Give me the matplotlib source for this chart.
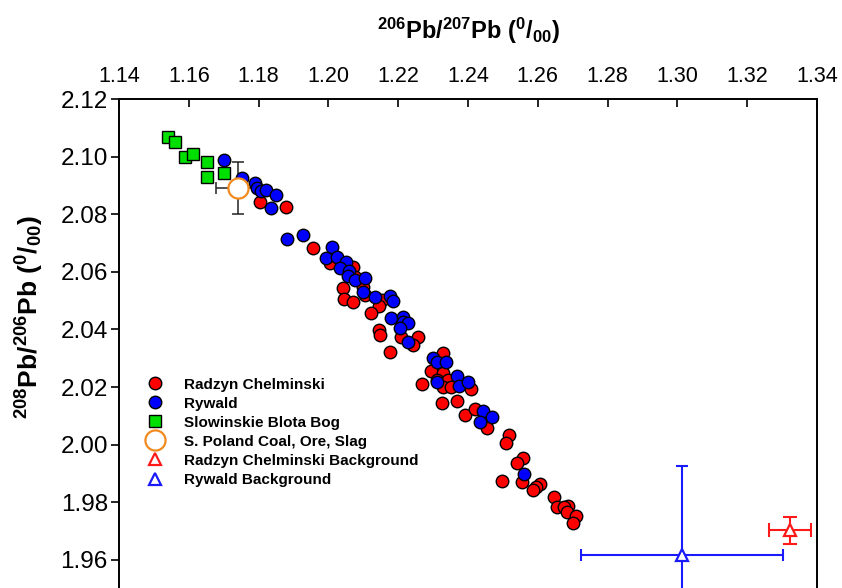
import matplotlib
matplotlib.use('Agg')
import matplotlib.pyplot as plt
from matplotlib import font_manager
import numpy as np

plt.rcParams['font.family'] = ['Liberation Sans', 'DejaVu Sans']
plt.rcParams['mathtext.default'] = 'regular'

# narrow face for the top axis, if it is there
try:
    font_manager.findfont('Liberation Sans Narrow', fallback_to_default=False)
    narrow = ['Liberation Sans Narrow', 'Liberation Sans']
except Exception:
    narrow = ['Liberation Sans']

# Radzyn Chelminski samples (206/207, 208/206)
radzyn_x = [1.1804, 1.1879, 1.1956, 1.2005, 1.2070, 1.2042, 1.2105, 1.2154, 1.2145, 1.2045,
            1.2070, 1.2122, 1.2145, 1.2148, 1.2208, 1.2257, 1.2242, 1.2176, 1.2328, 1.2294,
            1.2328, 1.2311, 1.2343, 1.2328, 1.2351, 1.2409, 1.2268, 1.2326, 1.2369, 1.2391,
            1.2420, 1.2454, 1.2518, 1.2509, 1.2558, 1.2540, 1.2497, 1.2555, 1.2606, 1.2595,
            1.2586, 1.2646, 1.2687, 1.2655, 1.2675, 1.2684, 1.2709, 1.2701, 1.2076, 1.2099]
radzyn_y = [2.0842, 2.0825, 2.0683, 2.0631, 2.0617, 2.0544, 2.0519, 2.0502, 2.0481, 2.0506,
            2.0495, 2.0457, 2.0398, 2.0381, 2.0374, 2.0374, 2.0346, 2.0322, 2.0318, 2.0256,
            2.0249, 2.0224, 2.0224, 2.0200, 2.0200, 2.0193, 2.0210, 2.0144, 2.0151, 2.0103,
            2.0124, 2.0058, 2.0033, 2.0006, 1.9953, 1.9936, 1.9874, 1.9870, 1.9863, 1.9853,
            1.9842, 1.9818, 1.9787, 1.9783, 1.9783, 1.9766, 1.9752, 1.9728, 2.0582, 2.0547]

# Rywald samples
rywald_x = [1.1701, 1.1752, 1.1790, 1.1795, 1.1807, 1.1821, 1.1850, 1.1836, 1.1881, 1.1927,
            1.2010, 1.1993, 1.2025, 1.2050, 1.2033, 1.2059, 1.2056, 1.2076, 1.2105, 1.2099,
            1.2134, 1.2176, 1.2185, 1.2179, 1.2214, 1.2214, 1.2228, 1.2205, 1.2228, 1.2300,
            1.2311, 1.2337, 1.2369, 1.2311, 1.2374, 1.2400, 1.2443, 1.2469, 1.2434, 1.2560]
rywald_y = [2.0988, 2.0926, 2.0908, 2.0891, 2.0881, 2.0884, 2.0867, 2.0822, 2.0714, 2.0728,
            2.0686, 2.0648, 2.0651, 2.0634, 2.0613, 2.0603, 2.0585, 2.0572, 2.0578, 2.0530,
            2.0512, 2.0516, 2.0499, 2.0440, 2.0443, 2.0426, 2.0422, 2.0405, 2.0356, 2.0301,
            2.0287, 2.0287, 2.0238, 2.0217, 2.0203, 2.0217, 2.0117, 2.0096, 2.0078, 1.9898]

# Slowinskie Blota Bog peat
bog_x = [1.1540, 1.1560, 1.1589, 1.1612, 1.1652, 1.1652, 1.1701]
bog_y = [2.1068, 2.1051, 2.0999, 2.1009, 2.0981, 2.0929, 2.0943]

# S. Poland coal, ore, slag (mean and error)
poland_x, poland_y = 1.1741, 2.0891
poland_xerr, poland_yerr = 0.0063, 0.0090

# backgrounds
rbg_x, rbg_y, rbg_xerr, rbg_yerr = 1.3323, 1.9703, 0.0060, 0.0047
ybg_x, ybg_y, ybg_xerr, ybg_yerr = 1.3013, 1.9617, 0.0290, 0.0310

fig = plt.figure(figsize=(8.42, 5.88), dpi=100)
ax = fig.add_axes([0.1413, -0.0255, 0.8290, 0.8571])

ax.errorbar(poland_x, poland_y, xerr=poland_xerr, yerr=poland_yerr, fmt='none',
            ecolor='#222222', elinewidth=1.1, capsize=4.5, capthick=1.1, zorder=1)
ax.errorbar(ybg_x, ybg_y, xerr=ybg_xerr, yerr=ybg_yerr, fmt='none',
            ecolor='#1a1aff', elinewidth=1.5, capsize=4.5, capthick=1.5, zorder=1)
ax.errorbar(rbg_x, rbg_y, xerr=rbg_xerr, yerr=rbg_yerr, fmt='none',
            ecolor='#ff1a1a', elinewidth=1.5, capsize=5, capthick=1.5, zorder=1)

h1, = ax.plot(radzyn_x, radzyn_y, 'o', ms=9, mfc='#ff0000', mec='black', mew=1.0,
              label='Radzyn Chelminski', zorder=3)
h2, = ax.plot(rywald_x, rywald_y, 'o', ms=9, mfc='#0000ff', mec='black', mew=1.0,
              label='Rywald', zorder=3)
h3, = ax.plot(bog_x, bog_y, 's', ms=8, mfc='#00e000', mec='black', mew=1.0,
              label='Slowinskie Blota Bog', zorder=3)
h4, = ax.plot(poland_x, poland_y, 'o', ms=14.5, mfc='white', mec='#f28a1e', mew=1.6,
              label='S. Poland Coal, Ore, Slag', zorder=4)
h5, = ax.plot(rbg_x, rbg_y, '^', ms=9, mfc='white', mec='#ff1a1a', mew=1.6,
              label='Radzyn Chelminski Background', zorder=4)
h6, = ax.plot(ybg_x, ybg_y, '^', ms=9, mfc='white', mec='#1a1aff', mew=1.6,
              label='Rywald Background', zorder=4)

ax.set_xlim(1.14, 1.34)
ax.set_ylim(1.945, 2.12)

ax.xaxis.tick_top()
ax.set_xticks(np.arange(1.14, 1.3401, 0.02))
ax.set_xticklabels(['%.2f' % v for v in np.arange(1.14, 1.3401, 0.02)],
                   fontsize=15.5, family=narrow)
ax.tick_params(axis='x', direction='in', length=6, width=1.2, pad=9)
ax.set_yticks(np.arange(1.96, 2.1201, 0.02))
ax.set_yticklabels(['%.2f' % v for v in np.arange(1.96, 2.1201, 0.02)], fontsize=17.5)
ax.tick_params(axis='y', direction='out', length=6, width=1.2, pad=2)

for s in ['top', 'left', 'right']:
    ax.spines[s].set_linewidth(1.4)
ax.spines['bottom'].set_visible(False)

fig.text(0.556, 0.948, r'$^{206}$Pb/$^{207}$Pb ($^{0}$/$_{00}$)', ha='center', va='center',
         fontsize=17, fontweight='bold', family=narrow)
fig.text(0.035, 0.46, r'$^{208}$Pb/$^{206}$Pb ($^{0}$/$_{00}$)', ha='center', va='center',
         rotation=90, fontsize=19, fontweight='bold')

leg = ax.legend(handles=[h1, h2, h3, h4, h5, h6], loc='upper left',
                bbox_to_anchor=(135.5 / 842, 1 - 370 / 588), bbox_transform=fig.transFigure,
                frameon=False, prop={'weight': 'bold', 'size': 11}, borderpad=0,
                handlelength=1.5, handletextpad=1.2, labelspacing=0.33, numpoints=1)

fig.savefig('out.png', dpi=100)
